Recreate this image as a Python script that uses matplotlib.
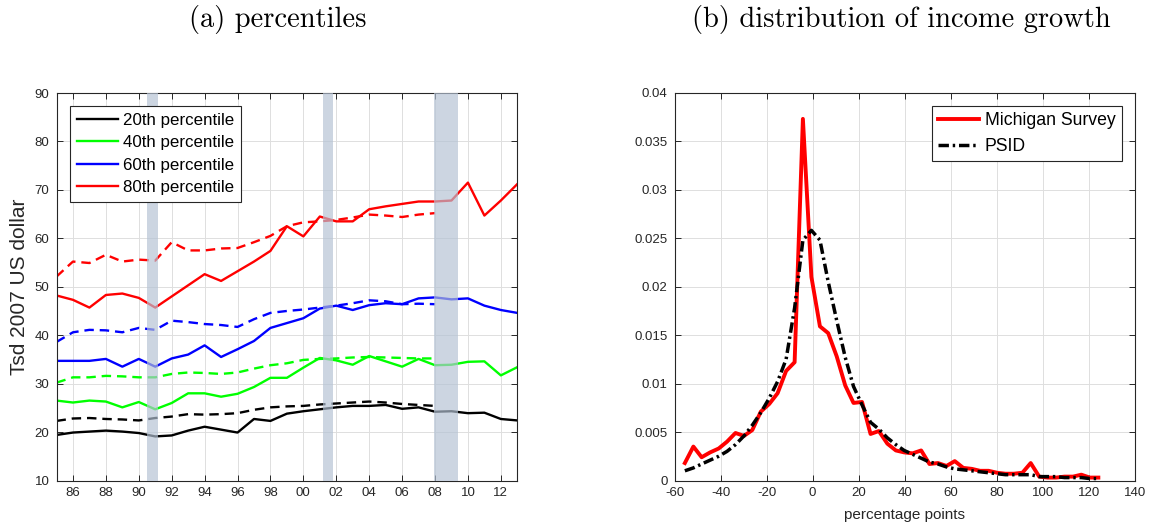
import matplotlib.pyplot as plt
from matplotlib.ticker import FuncFormatter

# ---- data: (a) income percentiles, thousands of 2007 USD ----
years = list(range(1985, 2014))
years_dash = list(range(1985, 2009))

p20 = [19.4, 19.9, 20.1, 20.3, 20.1, 19.8, 19.1, 19.3, 20.3, 21.1, 20.5, 19.9, 22.7, 22.3,
       23.8, 24.3, 24.7, 25.1, 25.4, 25.4, 25.6, 24.8, 25.1, 24.2, 24.3, 23.9, 24.0, 22.7, 22.4]
p40 = [26.5, 26.1, 26.5, 26.3, 25.1, 26.2, 24.7, 26.0, 28.0, 28.0, 27.3, 27.9, 29.3, 31.2,
       31.2, 33.3, 35.3, 34.8, 33.9, 35.7, 34.6, 33.5, 35.1, 33.8, 33.9, 34.5, 34.6, 31.7, 33.4]
p60 = [34.7, 34.7, 34.7, 35.1, 33.5, 35.1, 33.5, 35.2, 36.0, 37.9, 35.5, 37.1, 38.8, 41.5,
       42.5, 43.5, 45.5, 46.1, 45.2, 46.2, 46.6, 46.4, 47.6, 47.8, 47.4, 47.6, 46.1, 45.2, 44.6]
p80 = [48.2, 47.3, 45.7, 48.3, 48.6, 47.7, 45.7, 48.0, 50.3, 52.6, 51.2, 53.2, 55.2, 57.4,
       62.5, 60.4, 64.5, 63.5, 63.5, 66.0, 66.6, 67.1, 67.6, 67.6, 67.8, 71.5, 64.7, 67.8, 71.2]

p20_dash = [22.3, 22.8, 22.9, 22.7, 22.6, 22.4, 22.9, 23.2, 23.7, 23.6, 23.7, 23.9,
            24.6, 25.1, 25.3, 25.4, 25.7, 25.9, 26.1, 26.3, 26.1, 25.8, 25.6, 25.4]
p40_dash = [30.2, 31.3, 31.3, 31.6, 31.5, 31.3, 31.3, 32.0, 32.3, 32.2, 32.0, 32.3,
            33.1, 33.8, 34.2, 34.9, 35.1, 35.2, 35.4, 35.5, 35.4, 35.3, 35.2, 35.2]
p60_dash = [38.6, 40.6, 41.1, 41.0, 40.6, 41.5, 41.1, 43.0, 42.7, 42.3, 42.1, 41.7,
            43.3, 44.6, 45.0, 45.3, 45.7, 46.1, 46.6, 47.2, 47.0, 46.4, 46.5, 46.4]
p80_dash = [52.1, 55.2, 54.9, 56.6, 55.2, 55.6, 55.4, 59.2, 57.5, 57.5, 57.9, 58.0,
            59.2, 60.5, 62.5, 63.3, 63.5, 63.8, 64.3, 64.9, 64.7, 64.4, 64.9, 65.2]

recessions = [(1990.5, 1991.15), (2001.2, 2001.8), (2007.96, 2009.38)]

labels = ['20th percentile', '40th percentile', '60th percentile', '80th percentile']
colors = ['black', '#00ff00', 'blue', 'red']

# ---- data: (b) distribution of income growth ----
growth = [-55.5, -51.8, -48.2, -44.5, -40.8, -37.2, -33.5, -29.8, -26.2, -22.5,
          -18.8, -15.2, -11.5, -7.8, -4.2, -0.5, 3.2, 6.8, 10.5, 14.2,
          17.8, 21.5, 25.2, 28.8, 32.5, 36.2, 39.8, 43.5, 47.2, 50.8,
          54.5, 58.2, 61.8, 65.5, 69.2, 72.8, 76.5, 80.2, 83.8, 87.5,
          91.2, 94.8, 98.5, 102.2, 105.8, 109.5, 113.2, 116.8, 120.5, 124.2]
michigan = [0.0018, 0.0035, 0.0024, 0.0029, 0.0033, 0.0040, 0.0049, 0.0046, 0.0052, 0.0071,
            0.0079, 0.0090, 0.0113, 0.0122, 0.0373, 0.0210, 0.0159, 0.0152, 0.0128, 0.0098,
            0.0080, 0.0081, 0.0048, 0.0051, 0.0038, 0.0031, 0.0029, 0.0028, 0.0031, 0.0017,
            0.0018, 0.0015, 0.0020, 0.0013, 0.0012, 0.0010, 0.0010, 0.0008, 0.0007, 0.0007,
            0.0008, 0.0018, 0.0004, 0.0003, 0.0003, 0.0004, 0.0004, 0.0006, 0.0003, 0.0003]
psid = [0.0010, 0.0013, 0.0017, 0.0021, 0.0025, 0.0030, 0.0037, 0.0046, 0.0057, 0.0070,
        0.0085, 0.0102, 0.0125, 0.0178, 0.0248, 0.0258, 0.0248, 0.0205, 0.0165, 0.0127,
        0.0097, 0.0078, 0.0060, 0.0053, 0.0044, 0.0037, 0.0031, 0.0027, 0.0023, 0.0019,
        0.0017, 0.0014, 0.0012, 0.0011, 0.0010, 0.0009, 0.0008, 0.0007, 0.0006, 0.0006,
        0.0006, 0.0006, 0.0004, 0.0004, 0.0004, 0.0003, 0.0003, 0.0003, 0.0002, 0.0002]

W, H = 1149, 529
plt.rcParams['font.family'] = ['Liberation Sans', 'DejaVu Sans']
plt.rcParams['axes.unicode_minus'] = False
fig = plt.figure(figsize=(W / 100, H / 100), dpi=100)
ax1 = fig.add_axes([56.5 / W, 48.5 / H, 460.8 / W, 387.5 / H])
ax2 = fig.add_axes([674.5 / W, 48.5 / H, 460.2 / W, 387.8 / H])

edge = '#262626'


def style_axes(ax):
    ax.grid(True, color='#dedede', linewidth=0.7)
    ax.set_axisbelow(True)
    ax.tick_params(direction='in', length=4, width=0.7, colors=edge,
                   labelsize=9.5, top=True, right=True, pad=5)
    for s in ax.spines.values():
        s.set_color(edge)
        s.set_linewidth(0.8)


def style_legend(leg):
    leg.get_frame().set_edgecolor(edge)
    leg.get_frame().set_linewidth(0.8)
    leg.set_zorder(5)


# ---- (a) percentiles ----
solid_series = [p20, p40, p60, p80]
dash_series = [p20_dash, p40_dash, p60_dash, p80_dash]
for ys, yd, c, lab in zip(solid_series, dash_series, colors, labels):
    ax1.plot(years, ys, color=c, lw=1.7, label=lab, zorder=2)
    ax1.plot(years_dash, yd, color=c, lw=1.7, ls=(0, (4, 2.5)), zorder=2)
for a, b in recessions:
    ax1.axvspan(a, b, color='#b4c2d4', alpha=0.68, lw=0, zorder=3)

ax1.set_xlim(1985, 2013)
ax1.set_ylim(10, 90)
ax1.set_xticks(list(range(1986, 2013, 2)))
ax1.set_xticklabels(['%02d' % (y % 100) for y in range(1986, 2013, 2)])
ax1.set_yticks(list(range(10, 91, 10)))
style_axes(ax1)
ax1.set_ylabel('Tsd 2007 US dollar', fontsize=15, color=edge)
ax1.yaxis.set_label_coords(-0.06, 0.5)
leg1 = ax1.legend(loc='upper left', bbox_to_anchor=(0.029, 0.966), borderaxespad=0,
                  fontsize=12.2, handlelength=2.45, handletextpad=0.3, labelspacing=0.44,
                  borderpad=0.4, fancybox=False, framealpha=1)
style_legend(leg1)

# ---- (b) distribution of income growth ----
ax2.plot(growth, michigan, color='red', lw=2.8, label='Michigan Survey')
ax2.plot(growth, psid, color='black', lw=2.5, ls=(0, (3.0, 1.1, 0.7, 1.1)), label='PSID')
ax2.set_xlim(-60, 140)
ax2.set_ylim(0, 0.04)
ax2.set_xticks(list(range(-60, 141, 20)))
ax2.set_yticks([0, 0.005, 0.01, 0.015, 0.02, 0.025, 0.03, 0.035, 0.04])
ax2.yaxis.set_major_formatter(FuncFormatter(lambda v, p: '%g' % round(v, 4)))
style_axes(ax2)
ax2.set_xlabel('percentage points', fontsize=11, color=edge)
ax2.xaxis.set_label_coords(0.5, -0.072)
leg2 = ax2.legend(loc='upper right', bbox_to_anchor=(0.9715, 0.965), borderaxespad=0,
                  fontsize=12.7, handlelength=2.35, handletextpad=0.3, labelspacing=0.47,
                  borderpad=0.35, fancybox=False, framealpha=1)
style_legend(leg2)

# panel titles in LaTeX-like font
fig.text(277.5 / W, 1 - 19 / H, '(a) percentiles', fontsize=20.5, family='cmr10',
         ha='center', va='center')
fig.text(901 / W, 1 - 19 / H, '(b) distribution of income growth', fontsize=20.5,
         family='cmr10', ha='center', va='center')

fig.savefig('out.png', dpi=100)
